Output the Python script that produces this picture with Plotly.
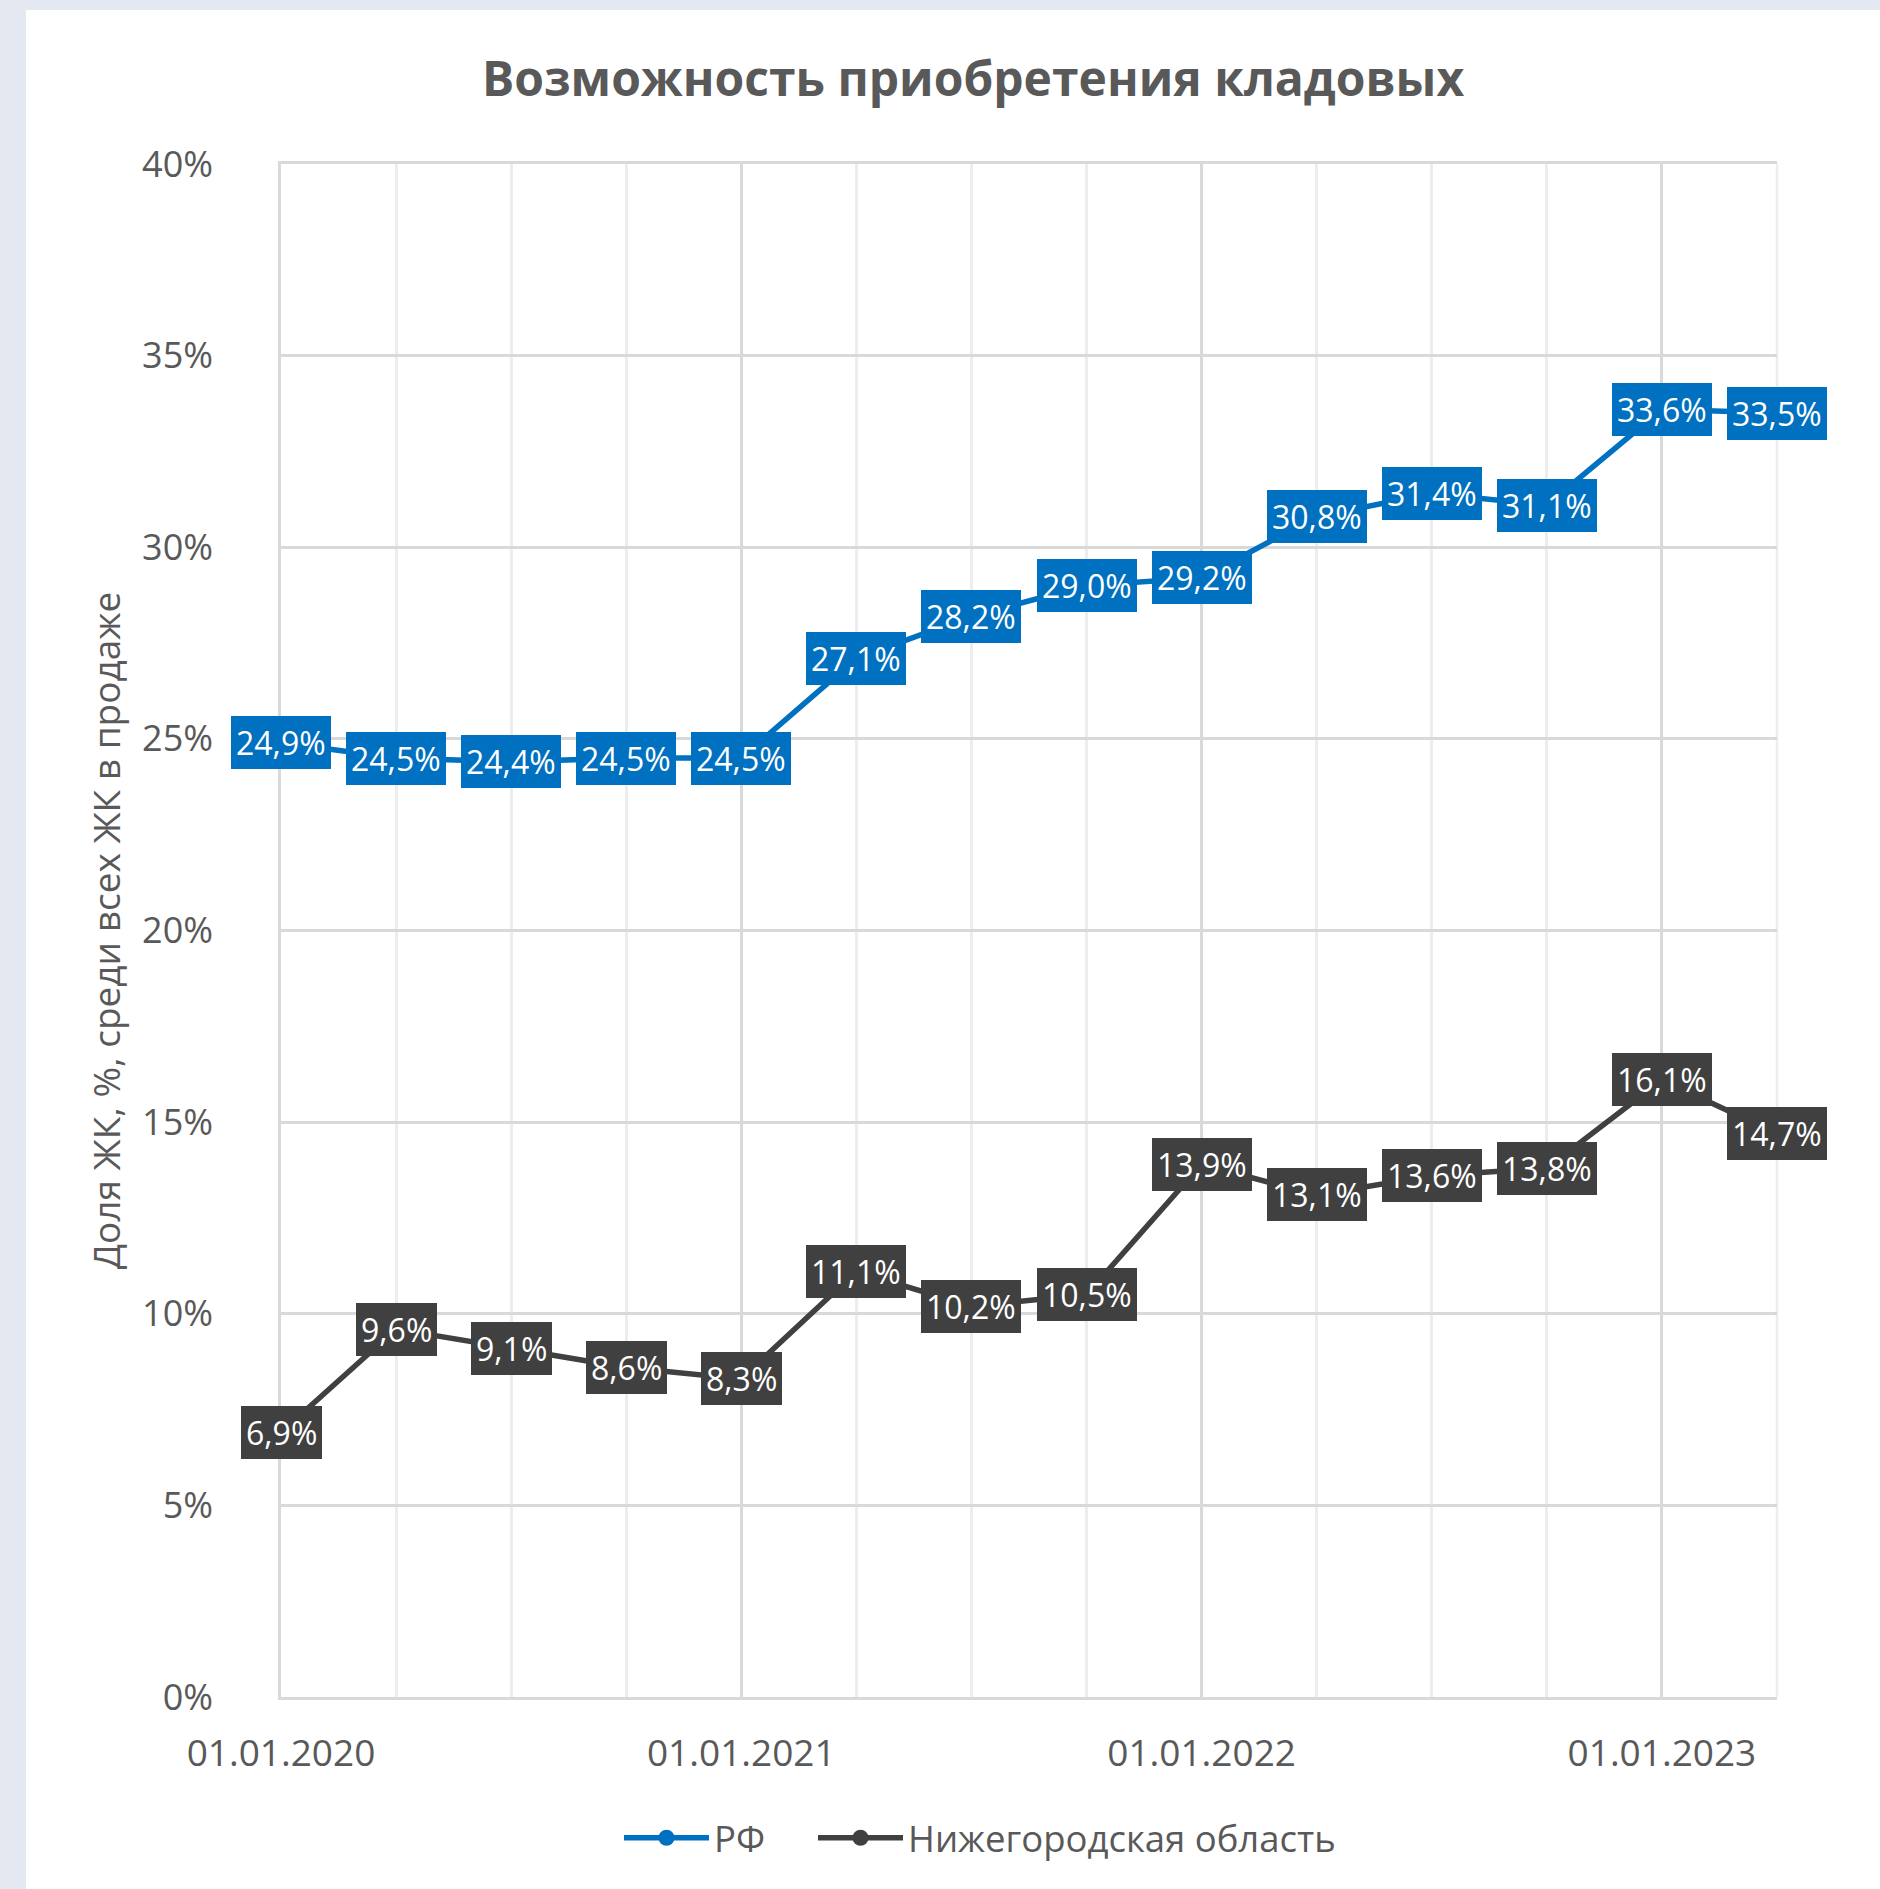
import plotly.graph_objects as go

dates = ["01.01.2020", "01.04.2020", "01.07.2020", "01.10.2020",
         "01.01.2021", "01.04.2021", "01.07.2021", "01.10.2021",
         "01.01.2022", "01.04.2022", "01.07.2022", "01.10.2022",
         "01.01.2023", "01.04.2023"]
rf_values = [24.9, 24.5, 24.4, 24.5, 24.5, 27.1, 28.2, 29.0, 29.2, 30.8, 31.4, 31.1, 33.6, 33.5]
nn_values = [6.9, 9.6, 9.1, 8.6, 8.3, 11.1, 10.2, 10.5, 13.9, 13.1, 13.6, 13.8, 16.1, 14.7]
series_names = ["РФ", "Нижегородская область"]
series_colors = ["#0070C0", "#404040"]
title_text = "Возможность приобретения кладовых"
y_title = "Доля ЖК, %, среди всех ЖК в продаже"
year_ticks = ["01.01.2020", "01.01.2021", "01.01.2022", "01.01.2023"]

FONT = "Open Sans"
TXT = "#595959"
GRID = "#D9D9D9"
GRID_MINOR = "#EDEDED"

# plot area in pixels
L, R, T, B = 281, 1777, 164, 1697
W, H = R - L, B - T

x_idx = list(range(len(dates)))
fig = go.Figure()
legend_ids = ["legend", "legend2"]
for name, vals, col, lg in zip(series_names, [rf_values, nn_values], series_colors, legend_ids):
    fig.add_trace(go.Scatter(
        x=x_idx, y=vals, name=name, mode="lines+markers",
        line=dict(color=col, width=5.5),
        marker=dict(color=col, size=16),
        customdata=dates, legend=lg,
    ))

annotations = []
for vals, col in zip([rf_values, nn_values], series_colors):
    for xi, v in zip(x_idx, vals):
        annotations.append(dict(
            x=xi, y=v, xref="x", yref="y",
            text=f"{v:.1f}%".replace(".", ","),
            showarrow=False, xanchor="center", yanchor="middle",
            bgcolor=col, borderpad=5, borderwidth=0,
            font=dict(family=FONT, size=32, color="white"),
        ))

annotations.append(dict(
    x=(973 - L) / W, y=(B - 78) / H, xref="paper", yref="paper",
    text=f"<b>{title_text}</b>", showarrow=False,
    xanchor="center", yanchor="middle",
    font=dict(family=FONT, size=48, color=TXT),
))

legend_common = dict(
    orientation="h", xref="container", xanchor="left",
    y=1 - 1838 / 1889, yref="container", yanchor="middle",
    font=dict(family=FONT, size=36.5, color=TXT),
    itemwidth=85, bgcolor="rgba(0,0,0,0)",
)

fig.update_layout(
    width=1880, height=1889,
    margin=dict(l=L, r=1880 - R, t=T, b=1889 - B),
    paper_bgcolor="#E4E9F1",
    plot_bgcolor="white",
    annotations=annotations,
    shapes=[
        dict(type="rect", xref="paper", yref="paper", layer="below",
             x0=(26 - L) / W, x1=(1900 - L) / W,
             y0=(B - 1910) / H, y1=(B - 10) / H,
             fillcolor="white", line=dict(width=0)),
        dict(type="line", xref="paper", yref="paper", layer="below",
             x0=1, x1=1, y0=0, y1=1, line=dict(color=GRID_MINOR, width=2.5)),
    ],
    showlegend=True,
    legend=dict(x=619 / 1880, **legend_common),
    legend2=dict(x=813 / 1880, **legend_common),
    font=dict(family=FONT, color=TXT),
)

fig.update_xaxes(
    range=[0, len(dates) - 1],
    tickmode="array", tickvals=[dates.index(d) for d in year_ticks], ticktext=year_ticks,
    showgrid=True, gridcolor=GRID, gridwidth=2.5,
    minor=dict(dtick=1, tick0=0, showgrid=True, gridcolor=GRID_MINOR, gridwidth=2.5),
    ticks="outside", ticklen=22, tickcolor="rgba(0,0,0,0)",
    tickfont=dict(family=FONT, size=37, color=TXT),
    zeroline=False, showline=True, linecolor=GRID, linewidth=2.5, mirror=True,
)
fig.update_yaxes(
    range=[0, 40], dtick=5, tick0=0, ticksuffix="%",
    showgrid=True, gridcolor=GRID, gridwidth=2.5,
    ticks="outside", ticklen=58, tickcolor="rgba(0,0,0,0)",
    tickfont=dict(family=FONT, size=36, color=TXT),
    zeroline=False, showline=True, linecolor=GRID, linewidth=2.5, mirror=False,
    title=dict(text=y_title, font=dict(family=FONT, size=37, color=TXT), standoff=11),
)

fig.write_html(
    "out.html",
    config={"displayModeBar": False},
    post_script="document.body.style.margin='0';document.body.style.overflow='hidden';",
)
